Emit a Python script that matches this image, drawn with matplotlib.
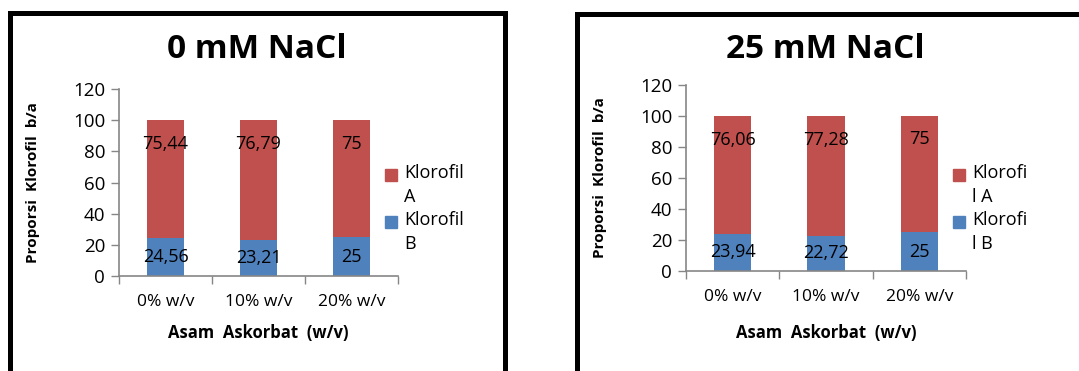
import numpy as np
import matplotlib
matplotlib.use('Agg')
import matplotlib.pyplot as plt
from matplotlib.lines import Line2D
from matplotlib.patches import Rectangle

plt.rcParams['font.family'] = ['Open Sans', 'DejaVu Sans']

categories = ['0% w/v', '10% w/v', '20% w/v']
titles = ['0 mM NaCl', '25 mM NaCl']
klorofil_a = [[75.44, 76.79, 75], [76.06, 77.28, 75]]
klorofil_b = [[24.56, 23.21, 25], [23.94, 22.72, 25]]
legend_labels = [['Klorofil\nA', 'Klorofil\nB'], ['Klorofi\nl A', 'Klorofi\nl B']]
xlabel = 'Asam  Askorbat  (w/v)'
ylabel = 'Proporsi  Klorofil  b/a'

RED = '#C0504D'
BLUE = '#4F81BD'
GREY = '#868686'

W, H = 1079, 371
fig = plt.figure(figsize=(W / 100, H / 100), dpi=100)

def px(x, y):
    return x / W, 1 - y / H

# panel layout in pixels: axes left, right, y(0), y(120), title x, ylabel x, legend x
panels = [
    dict(l=119, r=398, y0=276, y1=89, tx=257, ylx=33, lgx=385),
    dict(l=686, r=966, y0=271, y1=85, tx=825, ylx=600, lgx=953),
]

for i, p in enumerate(panels):
    x0, yb = px(p['l'], p['y0'])
    ax = fig.add_axes([x0, yb, (p['r'] - p['l']) / W, (p['y0'] - p['y1']) / H])
    x = np.arange(len(categories))
    b = np.array(klorofil_b[i])
    a = np.array(klorofil_a[i])
    ax.bar(x, b, width=0.4, color=BLUE)
    ax.bar(x, a, width=0.4, bottom=b, color=RED)
    for xi, bi, ai in zip(x, b, a):
        ax.text(xi, bi / 2, f'{bi:g}'.replace('.', ','), ha='center', va='center', fontsize=13)
        ax.text(xi, bi + ai * 0.8, f'{ai:g}'.replace('.', ','), ha='center', va='center', fontsize=13)

    ax.set_xlim(-0.5, 2.5)
    ax.set_ylim(0, 120)
    ax.set_yticks(range(0, 121, 20))
    ax.set_xticks(x)
    ax.set_xticklabels(categories, fontsize=12.5)
    ax.set_xticks([-0.5, 0.5, 1.5, 2.5], minor=True)
    ax.tick_params(axis='x', which='major', length=0, pad=13)
    ax.tick_params(axis='x', which='minor', length=6, color=GREY, width=1)
    ax.tick_params(axis='y', length=6, color=GREY, width=1, labelsize=13.5, pad=4)
    for s in ['top', 'right']:
        ax.spines[s].set_visible(False)
    for s in ['left', 'bottom']:
        ax.spines[s].set_color(GREY)
        ax.spines[s].set_linewidth(1.2)

    tx, ty = px(p['tx'], 50)
    fig.text(tx, ty, titles[i], ha='center', va='center', fontsize=24, fontweight='bold')
    cx = (p['l'] + p['r']) / 2
    fig.text(*px(cx, 333), xlabel, ha='center', va='center', fontsize=12, fontweight='bold')
    fig.text(*px(p['ylx'], (p['y0'] + p['y1']) / 2), ylabel, ha='center', va='center',
             rotation=90, fontsize=11, fontweight='bold')

    # legend, red entry on top
    for j, (lab, col) in enumerate(zip(legend_labels[i], [RED, BLUE])):
        sy = 175 + j * 47
        rx, ry = px(p['lgx'], sy + 6)
        fig.patches.append(Rectangle((rx, ry), 12 / W, 12 / H, transform=fig.transFigure,
                                     color=col, figure=fig))
        fig.text(*px(p['lgx'] + 19, sy - 11), lab, ha='left', va='top', fontsize=13,
                 linespacing=1.45)

# panel frames
def frame(xl, xr, yt):
    kw = dict(transform=fig.transFigure, color='black', linewidth=3.6, solid_capstyle='projecting')
    fig.lines.append(Line2D([xl / W, xl / W], [1 - yt / H, -0.05], **kw))
    fig.lines.append(Line2D([xl / W, xr / W], [1 - yt / H, 1 - yt / H], **kw))
    fig.lines.append(Line2D([xr / W, xr / W], [1 - yt / H, -0.05], **kw))

frame(10, 505, 13)
frame(577, 1100, 14)

fig.savefig('out.png', dpi=100)
